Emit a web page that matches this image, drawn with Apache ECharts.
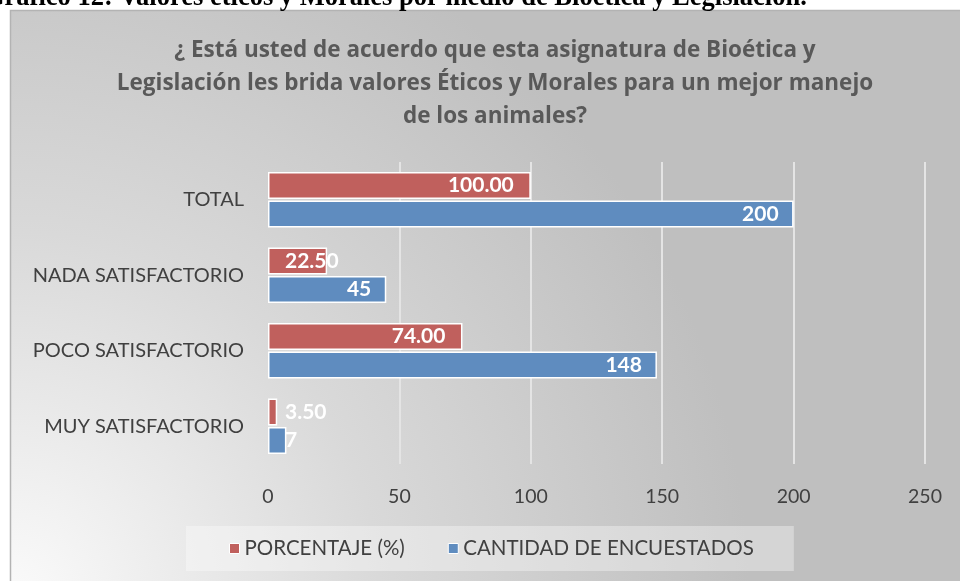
<!DOCTYPE html>
<html><head><meta charset="utf-8">
<script src="https://cdn.jsdelivr.net/npm/echarts@6/dist/echarts.min.js"></script>
<style>html,body{margin:0;padding:0;background:#fff;}#c{width:960px;height:581px;}</style>
</head><body><div id="c"></div>
<script>
const categories = ['TOTAL', 'NADA SATISFACTORIO', 'POCO SATISFACTORIO', 'MUY SATISFACTORIO'];
const porcentaje = [100.00, 22.50, 74.00, 3.50];
const cantidad = [200, 45, 148, 7];
const seriesNames = ['PORCENTAJE (%)', 'CANTIDAD DE ENCUESTADOS'];
const xTicks = [0, 50, 100, 150, 200, 250];
const titleText = '¿ Está usted de acuerdo que esta asignatura de Bioética y\nLegislación les brida valores Éticos y Morales para un mejor manejo\nde los animales?';
const headerText = 'Gráfico 12: Valores éticos y Morales por medio de Bioética y Legislación.';

const FONT = 'Lato';
const FONT2 = '"Open Sans"';
const fitMin = 30; // below this value the label does not fit at the bar end

function items(vals) {
  return vals.map(v => v < fitMin
    ? { value: v, label: { position: 'insideLeft', distance: 17 } }
    : { value: v });
}

const chart = echarts.init(document.getElementById('c'), null, { renderer: 'canvas' });
chart.setOption({
  animation: false,
  backgroundColor: '#ffffff',
  graphic: [
    {
      type: 'rect', z: -10, silent: true,
      shape: { x: 10.5, y: 10.5, width: 960, height: 590 },
      style: {
        fill: new echarts.graphic.RadialGradient(0, 1, 1.25, [
          { offset: 0, color: '#fbfbfb' },
          { offset: 0.5, color: '#d9d9d9' },
          { offset: 1, color: '#bfbfbf' }
        ]),
        stroke: '#b3b3b3', lineWidth: 1.5
      }
    },
    {
      type: 'text', z: 10, silent: true, left: -16, top: -15,
      style: { text: headerText, fill: '#000', font: 'bold 26.5px "Liberation Serif"' }
    }
  ],
  title: {
    text: titleText,
    left: 490, top: 29, textAlign: 'center',
    textStyle: { fontFamily: FONT2, fontWeight: 'bold', fontSize: 22.5, color: '#595959', lineHeight: 33 }
  },
  legend: {
    data: seriesNames,
    left: 186, top: 526,
    padding: [12, 40, 12, 43],
    itemGap: 43,
    itemWidth: 10, itemHeight: 10,
    icon: 'rect',
    backgroundColor: 'rgba(255,255,255,0.35)',
    textStyle: { fontFamily: FONT, fontSize: 20.5, color: '#404040' },
    itemStyle: { borderColor: '#ffffff', borderWidth: 1 }
  },
  grid: { left: 268, right: 35, top: 162, bottom: 117, containLabel: false },
  xAxis: {
    type: 'value', min: 0, max: 250, interval: 50,
    axisLine: { show: false }, axisTick: { show: false },
    axisLabel: { fontFamily: FONT, fontSize: 19.5, color: '#404040', margin: 23,
      formatter: v => xTicks.includes(v) ? String(v) : '' },
    splitLine: { show: true, showMinLine: false, lineStyle: { color: '#e4e4e4', width: 2 } }
  },
  yAxis: {
    type: 'category', data: categories, inverse: true,
    axisLine: { show: false }, axisTick: { show: false },
    axisLabel: { fontFamily: FONT, fontSize: 20, color: '#404040', margin: 24 }
  },
  series: [
    {
      name: seriesNames[0], type: 'bar', data: items(porcentaje),
      barWidth: 27, barGap: '5%',
      itemStyle: { color: '#c0605d', borderColor: '#ffffff', borderWidth: 1.5 },
      label: { show: true, position: 'insideRight', distance: 17, color: '#ffffff',
        fontFamily: FONT, fontWeight: 'bold', fontSize: 21,
        formatter: p => Number(p.value).toFixed(2) }
    },
    {
      name: seriesNames[1], type: 'bar', data: items(cantidad),
      barWidth: 27, barGap: '5%',
      itemStyle: { color: '#5f8cbf', borderColor: '#ffffff', borderWidth: 1.5 },
      label: { show: true, position: 'insideRight', distance: 15, color: '#ffffff',
        fontFamily: FONT, fontWeight: 'bold', fontSize: 21,
        formatter: p => String(p.value) }
    }
  ]
});
</script></body></html>
